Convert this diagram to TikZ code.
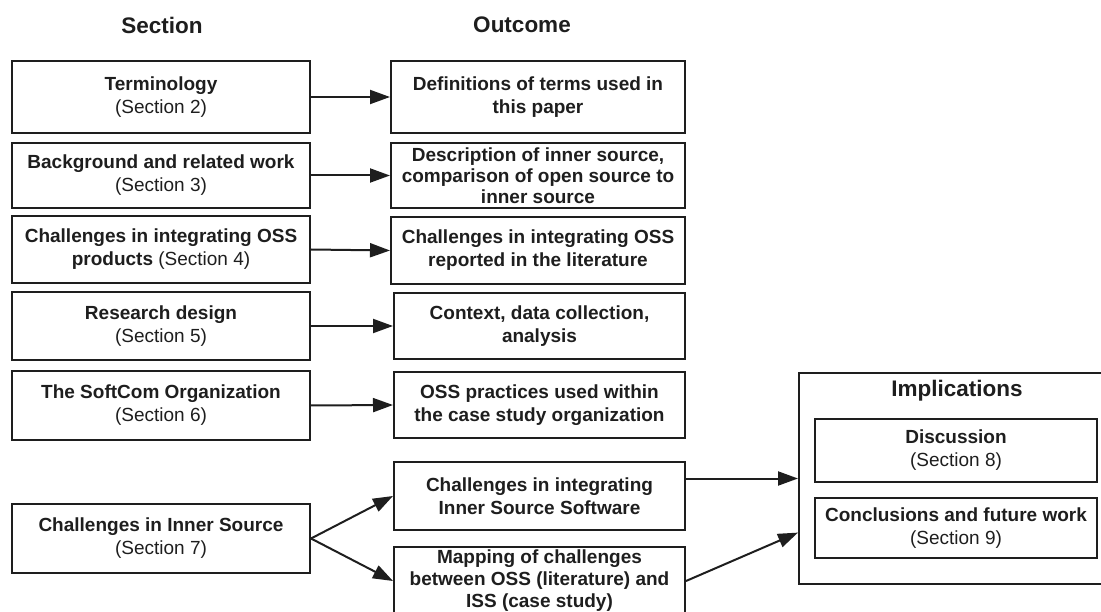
\documentclass[tikz,border=0pt]{standalone}
\usepackage{fontspec}
\setmainfont{Liberation Sans}
\usetikzlibrary{arrows.meta,calc}
\definecolor{ink}{HTML}{1E1E1E}
\tikzset{
  box/.style={draw=ink, line width=2pt, text=ink, inner sep=0pt, align=center,
    font=\fontsize{19}{23}\selectfont},
  secbox/.style={box, minimum width=298pt},
  outbox/.style={box, minimum width=294pt, font=\fontsize{19}{23}\selectfont\bfseries},
  outbox2/.style={box, minimum width=291pt, font=\fontsize{19}{23}\selectfont\bfseries},
  impbox/.style={box, minimum width=282pt},
  header/.style={text=ink, inner sep=0pt, font=\fontsize{22.5}{26}\selectfont\bfseries},
  link/.style={draw=ink, line width=2pt, -{Triangle[length=20pt,width=14pt]}}
}
\begin{document}
\begin{tikzpicture}[x=1pt,y=-1pt]
\useasboundingbox (0,0) rectangle (1101,612);
\clip (0,0) rectangle (1101,612);

% column headers
\node[header] (hsec) at (162,25) {Section};
\node[header] (hout) at (522,25) {Outcome};

% sections
\node[secbox, minimum height=72pt] (s2) at (161,97)    {{\bfseries Terminology}\\(Section 2)};
\node[secbox, minimum height=65pt] (s3) at (161,175.5) {{\bfseries Background and related work}\\(Section 3)};
\node[secbox, minimum height=67pt] (s4) at (161,249.5) {{\bfseries Challenges in integrating OSS}\\{\bfseries products} (Section 4)};
\node[secbox, minimum height=68pt] (s5) at (161,326)   {{\bfseries Research design}\\(Section 5)};
\node[secbox, minimum height=69pt] (s6) at (161,405.5) {{\bfseries The SoftCom Organization}\\(Section 6)};
\node[secbox, minimum height=69pt] (s7) at (161,538.5) {{\bfseries Challenges in Inner Source}\\(Section 7)};

% outcomes
\node[outbox, minimum height=72pt] (o2) at (538,97)    {Definitions of terms used in\\this paper};
\node[outbox, minimum height=65pt, font=\fontsize{19}{21}\selectfont\bfseries] (o3) at (538,175.5) {Description of inner source,\\comparison of open source to\\inner source};
\node[outbox, minimum height=67pt] (o4) at (538,250.5) {Challenges in integrating OSS\\reported in the literature};
\node[outbox2, minimum height=66pt] (o5) at (539.5,326) {Context, data collection,\\analysis};
\node[outbox2, minimum height=66pt] (o6) at (539.5,405) {OSS practices used within\\the case study organization};
\node[outbox2, minimum height=68pt] (o7a) at (539.5,496) {Challenges in integrating\\Inner Source Software};
\node[outbox2, minimum height=68pt, font=\fontsize{19}{22}\selectfont\bfseries] (o7b) at (539.5,581) {Mapping of challenges\\between OSS (literature) and\\ISS (case study)};

% implications
\node[draw=ink, line width=2pt, inner sep=0pt, minimum width=316pt, minimum height=211pt] (imp) at (957,478.5) {};
\node[header] (himp) at (957,391) {Implications};
\node[impbox, minimum height=63pt] (s8) at (956,450.5) {{\bfseries Discussion}\\(Section 8)};
\node[impbox, minimum height=60pt] (s9) at (956,528)   {{\bfseries Conclusions and future work}\\(Section 9)};

% connectors
\draw[link] (s2.east) -- (o2.west);
\draw[link] (s3.east) -- (o3.west);
\draw[link] (s4.east) -- (o4.west);
\draw[link] (s5.east) -- (o5.west);
\draw[link] (s6.east) -- (o6.west);
\draw[link] (s7.east) -- (o7a.west);
\draw[link] (s7.east) -- (o7b.west);
\draw[link] (o7a.east |- imp.west) -- (imp.west);
\draw[link] (o7b.east) -- ($(imp.north west)!0.754!(imp.south west)$);
\end{tikzpicture}
\end{document}
